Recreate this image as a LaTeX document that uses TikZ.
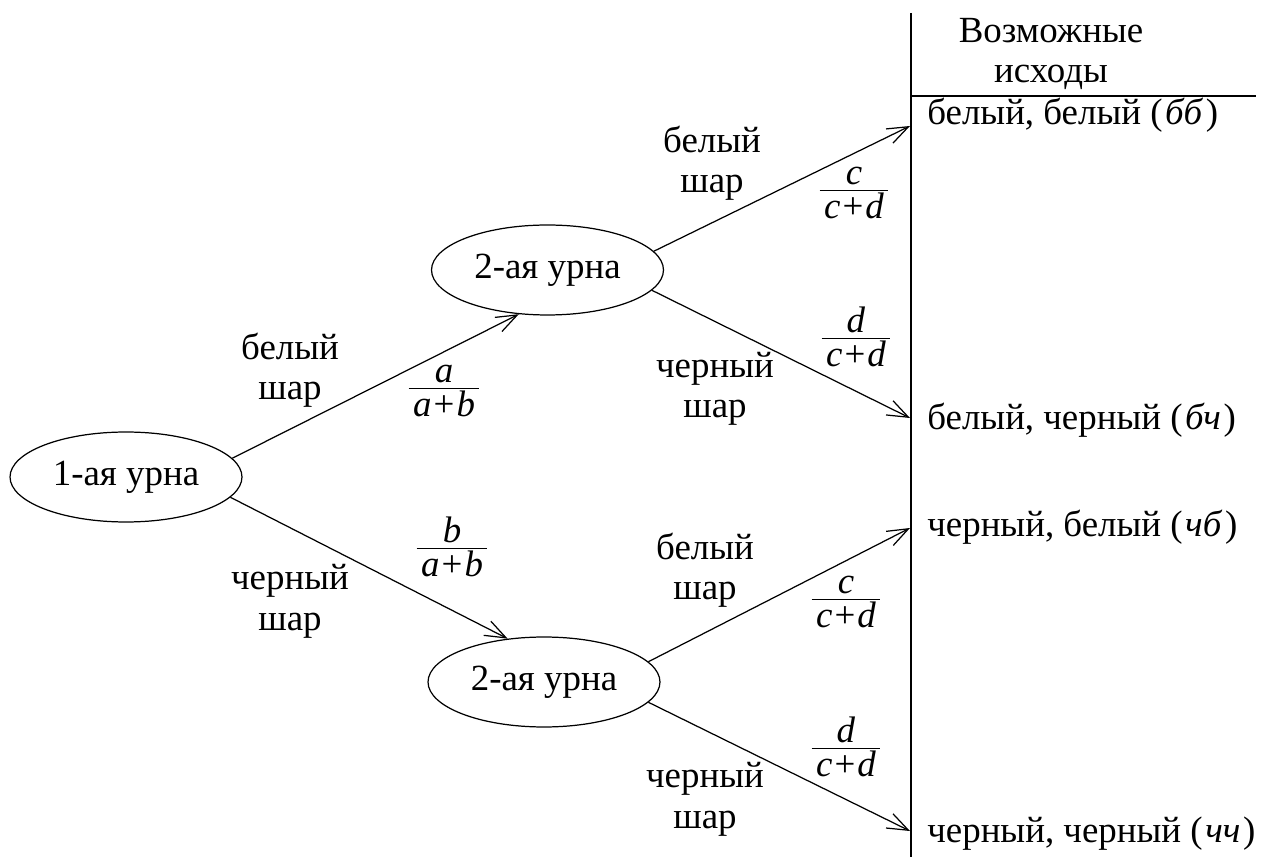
\documentclass[tikz,border=0pt]{standalone}
\usepackage{fontspec}
\setmainfont{Liberation Serif}
\usetikzlibrary{shapes.geometric,arrows.meta}
\newcommand{\pfr}[2]{$\frac{\mbox{#1}}{\mbox{\kern2.5pt\rule{0pt}{15.5pt}#2\kern2.5pt}}$}
\newcommand{\pls}{\kern1.2pt+\kern1.2pt}
\newcommand{\itp}[1]{(\kern1.5pt\textit{#1}\kern1.5pt)}
\begin{document}
\begin{tikzpicture}[x=0.02cm,y=-0.02cm,
  every node/.style={font=\fontsize{21}{22.8}\selectfont},
  urn/.style={draw, ellipse, line width=0.7pt, minimum width=4.64cm, minimum height=1.8cm, inner sep=0pt},
  lbl/.style={align=center, anchor=base, inner sep=0pt},
  fr/.style={anchor=base, inner sep=0pt},
  outc/.style={anchor=base west, inner sep=0pt},
  arr/.style={line width=0.7pt, -{Straight Barb[length=12pt,width=9pt]}}]
\useasboundingbox (0,0) rectangle (1267,857);
% table lines
\coordinate (vt) at (911,13);
\coordinate (vb) at (911,857);
\coordinate (hl) at (911,96);
\coordinate (hr) at (1256,96);
\draw[line width=1pt] (vt) -- (vb);
\draw[line width=1pt] (hl) -- (hr);
\node[lbl] (head) at (1051,83) {Возможные\\исходы};
% urns
\node[urn] (u1) at (126,477) {1-ая урна};
\node[urn] (u2a) at (547.5,270) {2-ая урна};
\node[urn] (u2b) at (544,682) {2-ая урна};
% outcomes
\coordinate (e1) at (910,126);
\coordinate (e2) at (910,418);
\coordinate (e3) at (910,528);
\coordinate (e4) at (910,831);
\node[outc] (o1) at (927,125) {белый, белый \itp{бб}};
\node[outc] (o2) at (927,430) {белый, черный \itp{бч}};
\node[outc] (o3) at (927,537) {черный, белый \itp{чб}};
\node[outc] (o4) at (927,842) {черный, черный \itp{чч}};
% connectors
\draw[arr] (u1.10) -- (u2a.237);
\draw[arr] (u1.-11) -- (u2b.130);
\draw[arr] (u2a.10) -- (e1);
\draw[arr] (u2a.-11) -- (e2);
\draw[arr] (u2b.11) -- (e3);
\draw[arr] (u2b.-11) -- (e4);
% labels
\node[lbl] (l1) at (290,400) {белый\\шар};
\node[lbl] (l2) at (290,630) {черный\\шар};
\node[lbl] (l3) at (712,193) {белый\\шар};
\node[lbl] (l4) at (715,418) {черный\\шар};
\node[lbl] (l5) at (705,600) {белый\\шар};
\node[lbl] (l6) at (705,828) {черный\\шар};
% fractions
\node[fr] (f1) at (444,397) {\pfr{\textit{a}}{\textit{a}\pls\textit{b}}};
\node[fr] (f2) at (452,557) {\pfr{\textit{b}}{\textit{a}\pls\textit{b}}};
\node[fr] (f3) at (854,199) {\pfr{\textit{c}}{\textit{c}\pls\textit{d}}};
\node[fr] (f4) at (856,347) {\pfr{\textit{d}}{\textit{c}\pls\textit{d}}};
\node[fr] (f5) at (846,608) {\pfr{\textit{c}}{\textit{c}\pls\textit{d}}};
\node[fr] (f6) at (846,757) {\pfr{\textit{d}}{\textit{c}\pls\textit{d}}};
\end{tikzpicture}
\end{document}
